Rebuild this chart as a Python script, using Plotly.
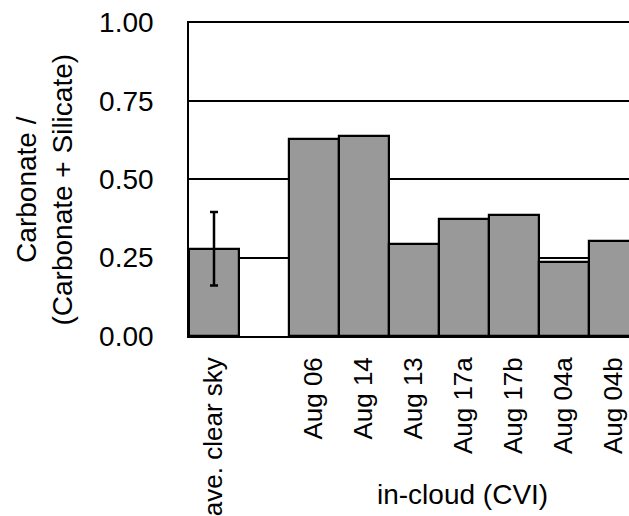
import plotly.graph_objects as go

categories = ["ave. clear sky", " ", "Aug 06", "Aug 14", "Aug 13", "Aug 17a", "Aug 17b", "Aug 04a", "Aug 04b"]
ratio = [0.278, None, 0.628, 0.638, 0.293, 0.373, 0.387, 0.236, 0.304]
err_category = ["ave. clear sky"]
err_value = [0.278]
err_size = [0.117]
y_ticks = [0.0, 0.25, 0.5, 0.75, 1.0]
y_ticktext = ["0.00", "0.25", "0.50", "0.75", "1.00"]

FONT = "Liberation Sans, Arial, sans-serif"

fig = go.Figure()
fig.add_trace(go.Bar(
    x=categories, y=ratio,
    marker=dict(color="#999999", line=dict(color="black", width=2.2)),
    width=1.0,
    showlegend=False,
))
fig.add_trace(go.Scatter(
    x=err_category, y=err_value, mode="markers",
    marker=dict(size=1, opacity=0),
    error_y=dict(type="data", array=err_size, visible=True,
                 color="black", thickness=2.5, width=4),
    showlegend=False, hoverinfo="skip",
))

fig.update_layout(
    width=629, height=516,
    margin=dict(l=189, r=0, t=21, b=180, autoexpand=False),
    paper_bgcolor="white", plot_bgcolor="white",
    bargap=0,
    font=dict(family=FONT, color="black"),
    xaxis=dict(
        type="category", categoryorder="array", categoryarray=categories,
        range=[-0.5, 8.3], automargin=False,
        tickangle=-90, tickfont=dict(size=26, family=FONT, color="black"),
        showgrid=False, showline=True, linecolor="black", linewidth=1.6,
        ticks="", ticklabelstandoff=9,
    ),
    yaxis=dict(
        range=[0, 1.004], tickvals=y_ticks, ticktext=y_ticktext, automargin=False,
        tickfont=dict(size=28, family=FONT, color="black"),
        showgrid=True, gridcolor="black", gridwidth=1.6,
        zeroline=False, showline=True, linecolor="black", linewidth=1.6,
        ticks="", ticklabelstandoff=28,
    ),
    annotations=[
        dict(text="Carbonate /<br>(Carbonate + Silicate)", textangle=-90,
             xref="paper", yref="paper", x=(44 - 189) / 440, y=(336 - 189.5) / 315,
             xanchor="center", yanchor="middle", showarrow=False,
             font=dict(size=28, family=FONT, color="black")),
        dict(text="in-cloud (CVI)",
             xref="paper", yref="paper", x=(462.5 - 189) / 440, y=(336 - 494) / 315,
             xanchor="center", yanchor="middle", showarrow=False,
             font=dict(size=28, family=FONT, color="black")),
    ],
)

fig.write_html("out.html")
